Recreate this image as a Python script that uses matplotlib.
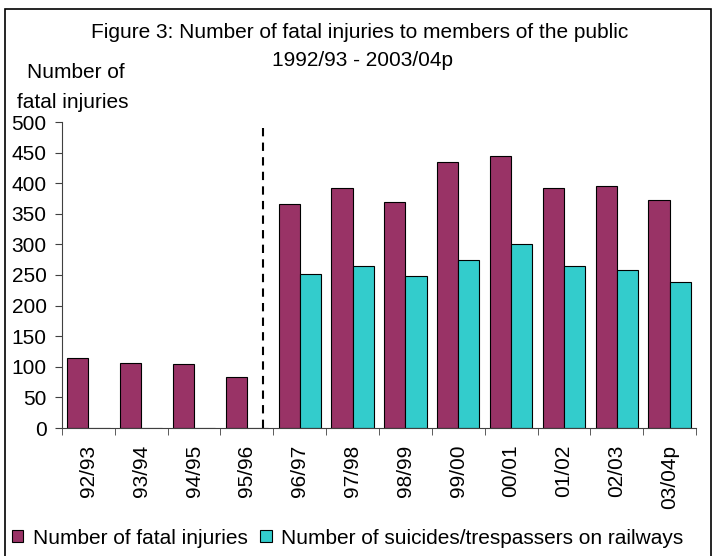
import matplotlib
matplotlib.use("Agg")
import matplotlib.pyplot as plt
import numpy as np
from matplotlib.patches import Rectangle

years = ["92/93", "93/94", "94/95", "95/96", "96/97", "97/98", "98/99",
         "99/00", "00/01", "01/02", "02/03", "03/04p"]
fatal = [114, 107, 104, 84, 366, 392, 369, 435, 445, 392, 396, 373]
suicides = [0, 0, 0, 0, 251, 265, 249, 274, 301, 265, 258, 238]
yticks = list(range(0, 501, 50))

plt.rcParams['font.family'] = ['Liberation Sans', 'DejaVu Sans']
fs = 15

fig = plt.figure(figsize=(7.14, 5.56), dpi=100)
ax = fig.add_axes([62/714, 1-428/556, 634/714, 306/556])

x = np.arange(len(years))
w = 0.4
ax.bar(x - w/2, fatal, w, color="#993366", edgecolor="black", linewidth=0.8,
       label="Number of fatal injuries")
ax.bar(x + w/2, suicides, w, color="#33CCCC", edgecolor="black", linewidth=0.8,
       label="Number of suicides/trespassers on railways")

ax.plot([3.3, 3.3], [0, 490], color="black", linestyle=(0, (4, 3)), linewidth=1.5)

ax.set_xlim(-0.5, len(years) - 0.5)
ax.set_ylim(0, 500)
ax.set_yticks(yticks)
ax.set_yticklabels([str(v) for v in yticks], fontsize=fs)
ax.set_xticks(x)
ax.set_xticklabels(years, rotation=90, fontsize=fs)
ax.tick_params(axis='x', length=0, pad=12)
ax.set_xticks(np.arange(-0.5, len(years)), minor=True)
ax.tick_params(axis='x', which='minor', length=5, color="#404040")
ax.tick_params(axis='y', length=5, color="#404040", pad=6)
for s in ["top", "right"]:
    ax.spines[s].set_visible(False)
for s in ["left", "bottom"]:
    ax.spines[s].set_color("#404040")

fig.text(0.503, 1-33/556, "Figure 3: Number of fatal injuries to members of the public",
         ha="center", va="center", fontsize=fs)
fig.text(0.508, 1-61/556, "1992/93 - 2003/04p", ha="center", va="center", fontsize=fs)
fig.text(27/714, 1-73/556, "Number of", ha="left", va="center", fontsize=fs)
fig.text(17/714, 1-103/556, "fatal injuries", ha="left", va="center", fontsize=fs)

fig.legend(loc="center left", bbox_to_anchor=(12/714, 1-538/556), ncol=2, frameon=False,
           fontsize=fs, handlelength=0.55, handleheight=0.55, handletextpad=0.45,
           columnspacing=0.6, borderaxespad=0, borderpad=0)

fig.add_artist(Rectangle((5/714, -0.05), 706/714, 1.05 - 9/556, transform=fig.transFigure,
                         fill=False, edgecolor="black", linewidth=1.2))

fig.savefig("out.png", dpi=100)
